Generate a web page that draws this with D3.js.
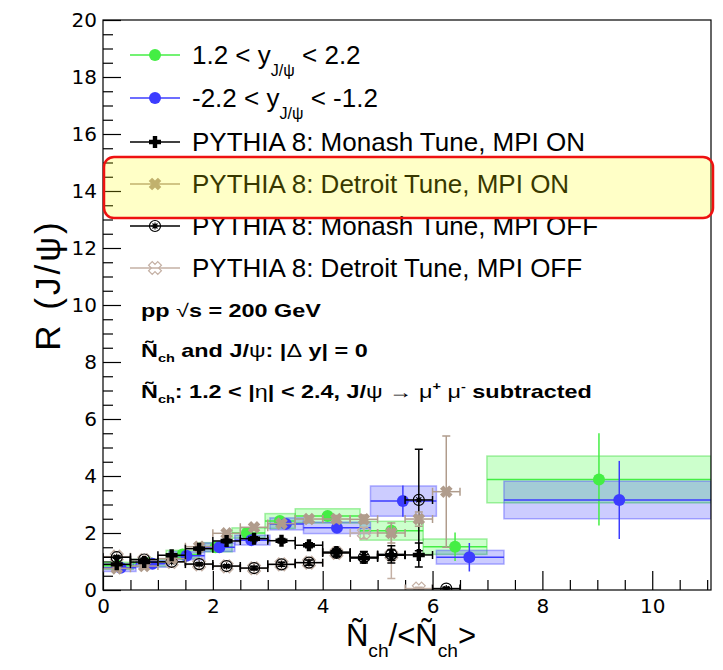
<!DOCTYPE html>
<html>
<head>
<meta charset="utf-8">
<script src="https://cdn.jsdelivr.net/npm/d3@7"></script>
<style>
  body { margin: 0; background: #fff; }
  text { font-family: 'Liberation Sans', Arial, sans-serif; fill: #000; }
  .tick text { font-family: 'DejaVu Sans', sans-serif; font-size: 20px; }
</style>
</head>
<body>
<div id="chart"></div>
<script>
// data: 1.2 < y < 2.2 (forward)
const fwdLo = [0, 0.55, 1.15, 1.75, 2.35, 2.95, 3.5, 4.68, 5.83, 6.99]
const fwdHi = [0.55, 1.15, 1.75, 2.35, 2.95, 3.5, 4.68, 5.83, 6.99, 11.07]
const fwdX = [0.27, 0.85, 1.45, 2.05, 2.62, 3.22, 4.09, 5.25, 6.41, 9.03]
const fwdY = [0.85, 0.95, 1.25, 1.5, 2.0, 2.42, 2.6, 2.08, 1.52, 3.88]
const fwdStat = [0.03, 0.04, 0.05, 0.07, 0.1, 0.15, 0.18, 0.3, 0.5, 1.62]
const fwdSys = [0.12, 0.12, 0.14, 0.16, 0.18, 0.26, 0.25, 0.33, 0.27, 0.82]

// data: -2.2 < y < -1.2 (backward)
const bwdLo = [0, 0.6, 1.2, 1.85, 2.4, 3.04, 3.65, 4.87, 6.07, 7.3]
const bwdHi = [0.6, 1.2, 1.85, 2.4, 3.04, 3.65, 4.87, 6.07, 7.3, 11.07]
const bwdX = [0.32, 0.9, 1.52, 2.12, 2.7, 3.33, 4.26, 5.46, 6.67, 9.4]
const bwdY = [0.78, 0.92, 1.2, 1.5, 1.75, 2.32, 2.18, 3.12, 1.15, 3.16]
const bwdStat = [0.04, 0.04, 0.05, 0.07, 0.1, 0.15, 0.15, 0.55, 0.5, 1.37]
const bwdSys = [0.13, 0.12, 0.14, 0.15, 0.17, 0.21, 0.2, 0.53, 0.24, 0.66]

// PYTHIA 8 curves (bins of width 0.5)
const monashOnX = [0.25, 0.75, 1.25, 1.75, 2.25, 2.75, 3.25, 3.75, 4.25, 4.75, 5.25, 5.75]
const monashOnY = [0.9, 0.98, 1.22, 1.45, 1.72, 1.8, 1.73, 1.57, 1.33, 1.12, 1.22, 1.23]
const monashOnErr = [0.03, 0.03, 0.04, 0.05, 0.06, 0.07, 0.08, 0.09, 0.1, 0.12, 0.18, 0.42]

const detroitOnX = [0.25, 0.75, 1.25, 1.75, 2.25, 2.75, 3.25, 3.75, 4.25, 4.75, 5.25, 5.75, 6.25]
const detroitOnY = [0.76, 0.84, 1.1, 1.52, 1.99, 2.2, 2.33, 2.49, 2.49, 2.48, 2.0, 2.49, 3.45]
const detroitOnErr = [0.03, 0.03, 0.04, 0.05, 0.06, 0.07, 0.09, 0.1, 0.12, 0.15, 0.35, 0.25, 1.95]

const monashOffX = [0.25, 0.75, 1.25, 1.75, 2.25, 2.75, 3.25, 3.75, 4.25, 4.75, 5.25, 5.75, 6.25]
const monashOffY = [1.15, 1.07, 0.99, 0.91, 0.84, 0.77, 0.9, 0.96, 1.3, 1.15, 1.25, 3.16, 0.05]
const monashOffErr = [0.04, 0.04, 0.04, 0.05, 0.05, 0.06, 0.07, 0.09, 0.12, 0.2, 0.3, 1.78, 0.05]

const detroitOffX = [0.25, 0.75, 1.25, 1.75, 2.25, 2.75, 3.25, 3.75, 4.25, 4.75, 5.25, 5.75]
const detroitOffY = [1.17, 1.05, 0.98, 0.9, 0.83, 0.76, 0.9, 0.96, 1.3, 2.0, 1.23, 0.05]
const detroitOffErr = [0.04, 0.04, 0.04, 0.05, 0.05, 0.06, 0.07, 0.09, 0.12, 0.2, 0.83, 0.05]

const xMajor = [0, 2, 4, 6, 8, 10]
const yMajor = [0, 2, 4, 6, 8, 10, 12, 14, 16, 18, 20]

const width = 723
const height = 670
const frame = { left: 103, right: 711, top: 20, bottom: 590 }

const x = d3.scaleLinear().domain([0, 11.07]).range([frame.left, frame.right])
const y = d3.scaleLinear().domain([0, 20]).range([frame.bottom, frame.top])

const svg = d3
  .select('#chart')
  .append('svg')
  .attr('width', width)
  .attr('height', height)

svg
  .append('defs')
  .append('clipPath')
  .attr('id', 'frame')
  .append('rect')
  .attr('x', frame.left)
  .attr('y', frame.top)
  .attr('width', frame.right - frame.left)
  .attr('height', frame.bottom - frame.top)

// axes, ticks pointing inward like ROOT
const xMinor = d3.range(0, 11.07, 0.5).filter((d) => !xMajor.includes(d))
const yMinor = d3.range(0, 20.01, 0.5).filter((d) => !yMajor.includes(d))

svg
  .append('g')
  .attr('transform', `translate(0, ${frame.bottom})`)
  .call(d3.axisBottom(x).tickValues(xMajor).tickSize(-19).tickPadding(9).tickFormat(d3.format('d')))
  .call((g) => g.select('.domain').remove())
svg
  .append('g')
  .attr('transform', `translate(0, ${frame.bottom})`)
  .call(d3.axisBottom(x).tickValues(xMinor).tickSize(-10).tickFormat(''))
  .call((g) => g.select('.domain').remove())
svg
  .append('g')
  .attr('transform', `translate(${frame.left}, 0)`)
  .call(d3.axisLeft(y).tickValues(yMajor).tickSize(-18).tickPadding(6).tickFormat(d3.format('d')))
  .call((g) => g.select('.domain').remove())
svg
  .append('g')
  .attr('transform', `translate(${frame.left}, 0)`)
  .call(d3.axisLeft(y).tickValues(yMinor).tickSize(-10).tickFormat(''))
  .call((g) => g.select('.domain').remove())

svg.selectAll('.tick line').attr('stroke', '#000').attr('stroke-width', 1.2)

const plot = svg.append('g').attr('clip-path', 'url(#frame)')

// systematic boxes
const boxes = (lo, hi, ys, sys, fill, stroke) => {
  plot
    .append('g')
    .selectAll('rect')
    .data(ys)
    .join('rect')
    .attr('x', (d, i) => x(lo[i]))
    .attr('width', (d, i) => x(hi[i]) - x(lo[i]))
    .attr('y', (d, i) => y(d + sys[i]))
    .attr('height', (d, i) => y(d - sys[i]) - y(d + sys[i]))
    .attr('fill', fill)
    .attr('stroke', stroke)
    .attr('stroke-width', 1.5)
}

const points = (lo, hi, xs, ys, stat, color) => {
  const g = plot.append('g')
  g.selectAll('line.h')
    .data(ys)
    .join('line')
    .attr('class', 'h')
    .attr('x1', (d, i) => x(lo[i]))
    .attr('x2', (d, i) => x(hi[i]))
    .attr('y1', (d) => y(d))
    .attr('y2', (d) => y(d))
    .attr('stroke', color)
    .attr('stroke-width', 1.5)
  g.selectAll('line.v')
    .data(ys)
    .join('line')
    .attr('class', 'v')
    .attr('x1', (d, i) => x(xs[i]))
    .attr('x2', (d, i) => x(xs[i]))
    .attr('y1', (d, i) => y(d - stat[i]))
    .attr('y2', (d, i) => y(d + stat[i]))
    .attr('stroke', color)
    .attr('stroke-width', 1.5)
  g.selectAll('circle')
    .data(ys)
    .join('circle')
    .attr('cx', (d, i) => x(xs[i]))
    .attr('cy', (d) => y(d))
    .attr('r', 6)
    .attr('fill', color)
}

// marker shapes
const plusPath = (h, a) =>
  `M${-a},${-h}L${a},${-h}L${a},${-a}L${h},${-a}L${h},${a}L${a},${a}L${a},${h}L${-a},${h}L${-a},${a}L${-h},${a}L${-h},${-a}L${-a},${-a}Z`
const markers = {
  monashOn: { d: plusPath(6, 2.2), fill: '#000', stroke: 'none', rot: 0 },
  detroitOn: { d: plusPath(6.5, 2.4), fill: '#b09c8c', stroke: 'none', rot: 45 },
  monashOff: {
    d: 'M5.5,0A5.5,5.5 0 1,1 -5.5,0A5.5,5.5 0 1,1 5.5,0M0,-3.5L0,3.5M-3.5,0L3.5,0M-2.5,-2.5L2.5,2.5M-2.5,2.5L2.5,-2.5',
    fill: 'none',
    stroke: '#000',
    rot: 0,
  },
  detroitOff: { d: plusPath(6.5, 2.6), fill: 'none', stroke: '#c4b0a4', rot: 45 },
}

const mcSeries = (xs, ys, err, color, marker) => {
  const rows = xs.map((d, i) => ({ x: d, y: ys[i], e: err[i] }))
  const g = plot.append('g').attr('stroke', color).attr('stroke-width', 1.5)
  const cap = 4
  g.selectAll('line.h')
    .data(rows)
    .join('line')
    .attr('class', 'h')
    .attr('x1', (d) => x(d.x - 0.25))
    .attr('x2', (d) => x(d.x + 0.25))
    .attr('y1', (d) => y(d.y))
    .attr('y2', (d) => y(d.y))
  g.selectAll('line.v')
    .data(rows)
    .join('line')
    .attr('class', 'v')
    .attr('x1', (d) => x(d.x))
    .attr('x2', (d) => x(d.x))
    .attr('y1', (d) => y(d.y - d.e))
    .attr('y2', (d) => y(d.y + d.e))
  // end caps
  g.selectAll('path.cap')
    .data(rows)
    .join('path')
    .attr('class', 'cap')
    .attr('fill', 'none')
    .attr('d', (d) => {
      const cx = x(d.x)
      const cy = y(d.y)
      const l = x(d.x - 0.25)
      const r = x(d.x + 0.25)
      const t = y(d.y + d.e)
      const b = y(d.y - d.e)
      return `M${l},${cy - cap}L${l},${cy + cap}M${r},${cy - cap}L${r},${cy + cap}` +
        `M${cx - cap},${t}L${cx + cap},${t}M${cx - cap},${b}L${cx + cap},${b}`
    })
  plot
    .append('g')
    .selectAll('path.m')
    .data(rows)
    .join('path')
    .attr('class', 'm')
    .attr('transform', (d) => `translate(${x(d.x)}, ${y(d.y)}) rotate(${marker.rot})`)
    .attr('d', marker.d)
    .attr('fill', marker.fill)
    .attr('stroke', marker.stroke)
    .attr('stroke-width', 1.2)
}

boxes(fwdLo, fwdHi, fwdY, fwdSys, 'rgba(0,255,0,0.2)', 'rgba(60,220,60,0.45)')
boxes(bwdLo, bwdHi, bwdY, bwdSys, 'rgba(0,0,255,0.2)', 'rgba(80,80,255,0.45)')
points(fwdLo, fwdHi, fwdX, fwdY, fwdStat, '#44ee44')
points(bwdLo, bwdHi, bwdX, bwdY, bwdStat, '#3c3cff')
mcSeries(detroitOffX, detroitOffY, detroitOffErr, '#c4b0a4', markers.detroitOff)
mcSeries(monashOffX, monashOffY, monashOffErr, '#000', markers.monashOff)
mcSeries(detroitOnX, detroitOnY, detroitOnErr, '#b09c8c', markers.detroitOn)
mcSeries(monashOnX, monashOnY, monashOnErr, '#000', markers.monashOn)

// frame
svg
  .append('rect')
  .attr('x', frame.left)
  .attr('y', frame.top)
  .attr('width', frame.right - frame.left)
  .attr('height', frame.bottom - frame.top)
  .attr('fill', 'none')
  .attr('stroke', '#000')
  .attr('stroke-width', 1.2)

// rich text helper: parts are [text, mode]
const richText = (sel, parts, size, subShift) => {
  let shift = 0
  parts.forEach(([t, mode]) => {
    const small = mode === 'sub' || mode === 'sup'
    const target = mode === 'sub' ? subShift : mode === 'sup' ? -size * 0.42 : 0
    sel
      .append('tspan')
      .attr('dy', target - shift)
      .attr('font-size', small ? size * 0.62 : size)
      .attr('font-weight', mode === 'g' ? 'normal' : null)
      .text(t)
    shift = target
  })
}

// legend
const legendRows = [
  { cy: 55, color: '#44ee44', kind: 'circle', parts: [['1.2 < y'], ['J/ψ', 'sub'], [' < 2.2']] },
  { cy: 98, color: '#3c3cff', kind: 'circle', parts: [['-2.2 < y'], ['J/ψ', 'sub'], [' < -1.2']] },
  { cy: 142, color: '#000', kind: 'monashOn', parts: [['PYTHIA 8: Monash Tune, MPI ON']] },
  { cy: 184, color: '#b09c8c', kind: 'detroitOn', parts: [['PYTHIA 8: Detroit Tune, MPI ON']] },
  { cy: 226, color: '#000', kind: 'monashOff', parts: [['PYTHIA 8: Monash Tune, MPI OFF']] },
  { cy: 268, color: '#c4b0a4', kind: 'detroitOff', parts: [['PYTHIA 8: Detroit Tune, MPI OFF']] },
]

const legend = svg.append('g')
legendRows.forEach((row) => {
  legend
    .append('line')
    .attr('x1', 130)
    .attr('x2', 180)
    .attr('y1', row.cy)
    .attr('y2', row.cy)
    .attr('stroke', row.color)
    .attr('stroke-width', 1.5)
  if (row.kind === 'circle') {
    legend.append('circle').attr('cx', 155).attr('cy', row.cy).attr('r', 6).attr('fill', row.color)
  } else {
    const m = markers[row.kind]
    legend
      .append('path')
      .attr('transform', `translate(155, ${row.cy}) rotate(${m.rot})`)
      .attr('d', m.d)
      .attr('fill', m.fill)
      .attr('stroke', m.stroke)
      .attr('stroke-width', 1.2)
  }
  const t = legend.append('text').attr('x', 192).attr('y', row.cy + 9)
  richText(t, row.parts, 26, 12)
})

// info text (drawn a bit wider than the plain font, as in the original)
const infoLine = (yPos, parts) => {
  const t = svg
    .append('g')
    .attr('transform', `translate(141, ${yPos}) scale(1.3, 1)`)
    .append('text')
    .attr('font-weight', 'bold')
  richText(t, parts, 18, 5)
}
infoLine(317, [['pp  '], ['√', 'g'], ['s = 200 GeV']])
infoLine(357, [['Ñ'], ['ch', 'sub'], [' and J/'], ['ψ', 'g'], [': |'], ['Δ', 'g'], [' y| = 0']])
infoLine(398, [
  ['Ñ'], ['ch', 'sub'], [': 1.2 < |'], ['η', 'g'], ['| < 2.4, J/'], ['ψ', 'g'], ['  '], ['→', 'g'],
  ['  '], ['μ', 'g'], ['+', 'sup'], [' '], ['μ', 'g'], ['-', 'sup'], [' subtracted'],
])

// axis titles
richText(
  svg.append('text').attr('x', 411).attr('y', 646).attr('text-anchor', 'middle'),
  [['Ñ'], ['ch', 'sub'], ['/<Ñ'], ['ch', 'sub'], ['>']],
  31,
  11
)
svg
  .append('text')
  .attr('transform', 'translate(60, 285) rotate(-90)')
  .attr('text-anchor', 'middle')
  .attr('font-size', 35)
  .attr('letter-spacing', 3)
  .text('R (J/ψ)')

// highlight box over the Detroit MPI ON entry
svg
  .append('rect')
  .attr('x', 104)
  .attr('y', 157)
  .attr('width', 609)
  .attr('height', 61)
  .attr('rx', 10)
  .attr('fill', 'rgba(255,255,0,0.22)')
  .attr('stroke', '#ee1111')
  .attr('stroke-width', 2.5)
</script>
</body>
</html>
